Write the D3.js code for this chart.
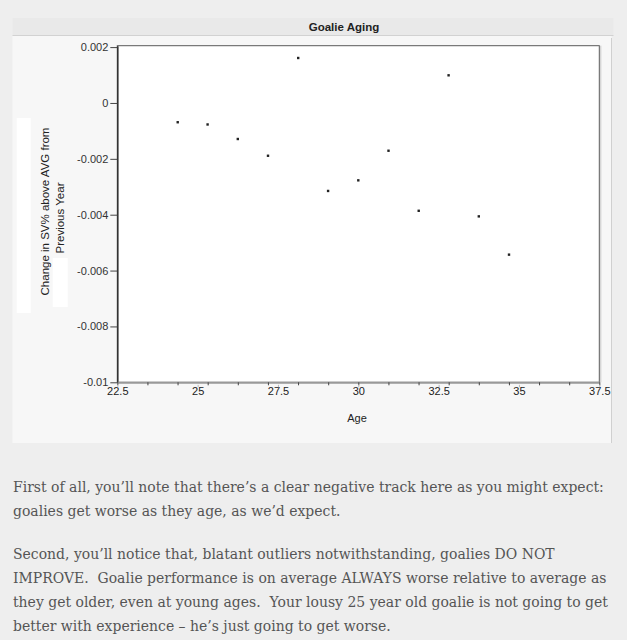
<!DOCTYPE html>
<html>
<head>
<meta charset="utf-8">
<script src="https://cdn.jsdelivr.net/npm/d3@7"></script>
<style>
    html, body { margin: 0; padding: 0; background: #eeeeee; }
    svg { display: block; }
</style>
</head>
<body>
<div id="chart"></div>
<script>
// values
const ages = [24.38, 25.31, 26.25, 27.19, 28.13, 29.06, 30.00, 30.94, 31.88, 32.81, 33.75, 34.69];
const svChange = [-0.00069, -0.00077, -0.00129, -0.00189, 0.00161, -0.00315, -0.00277, -0.00171, -0.00386, 0.00099, -0.00406, -0.00543];
const xTickLabels = [22.5, 25, 27.5, 30, 32.5, 35, 37.5];
const yTickLabels = [0.002, 0, -0.002, -0.004, -0.006, -0.008, -0.01];
const xMinorCount = 16;

const chartTitle = 'Goalie Aging';
const xTitle = 'Age';
const yTitleLines = ['Change in SV% above AVG from', 'Previous Year'];

const paragraphs = [
    ['First of all, you\u2019ll note that there\u2019s a clear negative track here as you might expect:',
     'goalies get worse as they age, as we\u2019d expect.'],
    ['Second, you\u2019ll notice that, blatant outliers notwithstanding, goalies DO NOT',
     'IMPROVE.\u00a0 Goalie performance is on average ALWAYS worse relative to average as',
     'they get older, even at young ages.\u00a0 Your lousy 25 year old goalie is not going to get',
     'better with experience \u2013 he\u2019s just going to get worse.']
];

const width = 627;
const height = 640;
const plot = {left: 117.3, right: 599.3, top: 45.7, bottom: 382.3};

const svg = d3.select('#chart')
    .append('svg')
    .attr('width', width)
    .attr('height', height);

svg.append('rect')
    .attr('width', width)
    .attr('height', height)
    .attr('fill', '#eeeeee');

// JMP style window: title bar + panel
svg.append('rect')
    .attr('x', 12.5).attr('y', 18)
    .attr('width', 601).attr('height', 17.5)
    .attr('fill', '#e9e9e9');
svg.append('line')
    .attr('x1', 12.5).attr('x2', 613.5)
    .attr('y1', 35.5).attr('y2', 35.5)
    .attr('stroke', '#d2d2d2');
svg.append('rect')
    .attr('x', 12.5).attr('y', 36)
    .attr('width', 599).attr('height', 407)
    .attr('fill', '#f7f7f7');
svg.append('line')
    .attr('x1', 611.5).attr('x2', 611.5)
    .attr('y1', 38).attr('y2', 443)
    .attr('stroke', '#d0d0d0');

svg.append('text')
    .attr('x', 344).attr('y', 30.5)
    .attr('text-anchor', 'middle')
    .attr('font-family', 'Liberation Sans, Arial, sans-serif')
    .attr('font-weight', 'bold')
    .attr('font-size', 11.5)
    .attr('fill', '#222')
    .text(chartTitle);

const x = d3.scaleLinear()
    .domain([22.5, 37.5])
    .range([plot.left, plot.right]);

const y = d3.scaleLinear()
    .domain([-0.01, 0.00205])
    .range([plot.bottom, plot.top]);

// plot area
svg.append('rect')
    .attr('x', plot.left).attr('y', plot.top)
    .attr('width', plot.right - plot.left)
    .attr('height', plot.bottom - plot.top)
    .attr('fill', '#ffffff')
    .attr('stroke', '#5a5a5a')
    .attr('stroke-width', 1);
svg.append('line')
    .attr('x1', plot.right + 1.5).attr('x2', plot.right + 1.5)
    .attr('y1', plot.top).attr('y2', plot.bottom)
    .attr('stroke', '#c8c8c8');

const font = 'Liberation Sans, Arial, sans-serif';
const plainNumber = (d) => String(d);

// y axis
const yAxis = d3.axisLeft(y)
    .tickValues(yTickLabels)
    .tickSize(7)
    .tickSizeOuter(0)
    .tickPadding(2)
    .tickFormat(plainNumber);

const gy = svg.append('g')
    .attr('class', 'y axis')
    .attr('transform', `translate(${plot.left},0)`)
    .call(yAxis);
gy.select('.domain').attr('stroke', '#333').attr('stroke-width', 1.6);
gy.selectAll('.tick line').attr('stroke', '#444');
gy.selectAll('.tick text')
    .attr('font-family', font)
    .attr('font-size', 11)
    .attr('fill', '#333');

// x axis: minor ticks spread evenly, labelled ticks every 2.5
const minorTicks = d3.range(xMinorCount + 1).map(i => 22.5 + i * 15 / xMinorCount);

const xMinor = d3.axisBottom(x)
    .tickValues(minorTicks)
    .tickSize(3)
    .tickSizeOuter(0)
    .tickFormat('');

const gxm = svg.append('g')
    .attr('class', 'x minor axis')
    .attr('transform', `translate(0,${plot.bottom})`)
    .call(xMinor);
gxm.select('.domain').attr('stroke', '#999').attr('stroke-width', 2);
gxm.selectAll('.tick line').attr('stroke', '#444');

const xAxis = d3.axisBottom(x)
    .tickValues(xTickLabels)
    .tickSize(0)
    .tickSizeOuter(0)
    .tickPadding(6)
    .tickFormat(plainNumber);

const gx = svg.append('g')
    .attr('class', 'x axis')
    .attr('transform', `translate(0,${plot.bottom})`)
    .call(xAxis);
gx.select('.domain').remove();
gx.selectAll('.tick')
    .append('line')
    .attr('y1', 2.5).attr('y2', 5)
    .attr('stroke', '#bbb');
gx.selectAll('.tick text')
    .attr('dy', '0.6em')
    .attr('font-family', font)
    .attr('font-size', 11)
    .attr('fill', '#222');

svg.append('text')
    .attr('x', 357).attr('y', 422)
    .attr('text-anchor', 'middle')
    .attr('font-family', font)
    .attr('font-size', 11)
    .attr('fill', '#222')
    .text(xTitle);

// y title with its white blocks
svg.append('rect')
    .attr('x', 16.7).attr('y', 118)
    .attr('width', 14).attr('height', 195)
    .attr('fill', '#ffffff');
svg.append('rect')
    .attr('x', 52.7).attr('y', 258)
    .attr('width', 15).attr('height', 49)
    .attr('fill', '#ffffff');

svg.selectAll('.ytitle')
    .data(yTitleLines)
    .enter().append('text')
    .attr('class', 'ytitle')
    .attr('transform', (d, i) => `translate(${49 + i * 15},${i === 0 ? 211.5 : 218}) rotate(-90)`)
    .attr('text-anchor', 'middle')
    .attr('font-family', font)
    .attr('font-size', 11.5)
    .attr('fill', '#222')
    .text(d => d);

// points
svg.selectAll('.dot')
    .data(ages.map((a, i) => ({age: a, change: svChange[i]})))
    .enter().append('rect')
    .attr('class', 'dot')
    .attr('x', d => x(d.age) - 1.2)
    .attr('y', d => y(d.change) - 1.2)
    .attr('width', 2.4)
    .attr('height', 2.4)
    .attr('fill', '#222');

// blog text below the chart
const bodyFont = 'DejaVu Serif, serif';
const probe = svg.append('text')
    .attr('font-family', bodyFont)
    .attr('font-size', 16)
    .text(paragraphs[0][0]);
const fitSize = 16 * 591 / probe.node().getComputedTextLength();
probe.remove();

const paraTop = [491.5, 559.3];
paragraphs.forEach((lines, p) => {
    svg.selectAll(`.para${p}`)
        .data(lines)
        .enter().append('text')
        .attr('class', `para${p}`)
        .attr('x', 13)
        .attr('y', (d, i) => paraTop[p] + i * 24)
        .attr('font-family', bodyFont)
        .attr('font-size', fitSize)
        .attr('fill', '#555')
        .attr('xml:space', 'preserve')
        .style('white-space', 'pre')
        .text(d => d);
});
</script>
</body>
</html>
